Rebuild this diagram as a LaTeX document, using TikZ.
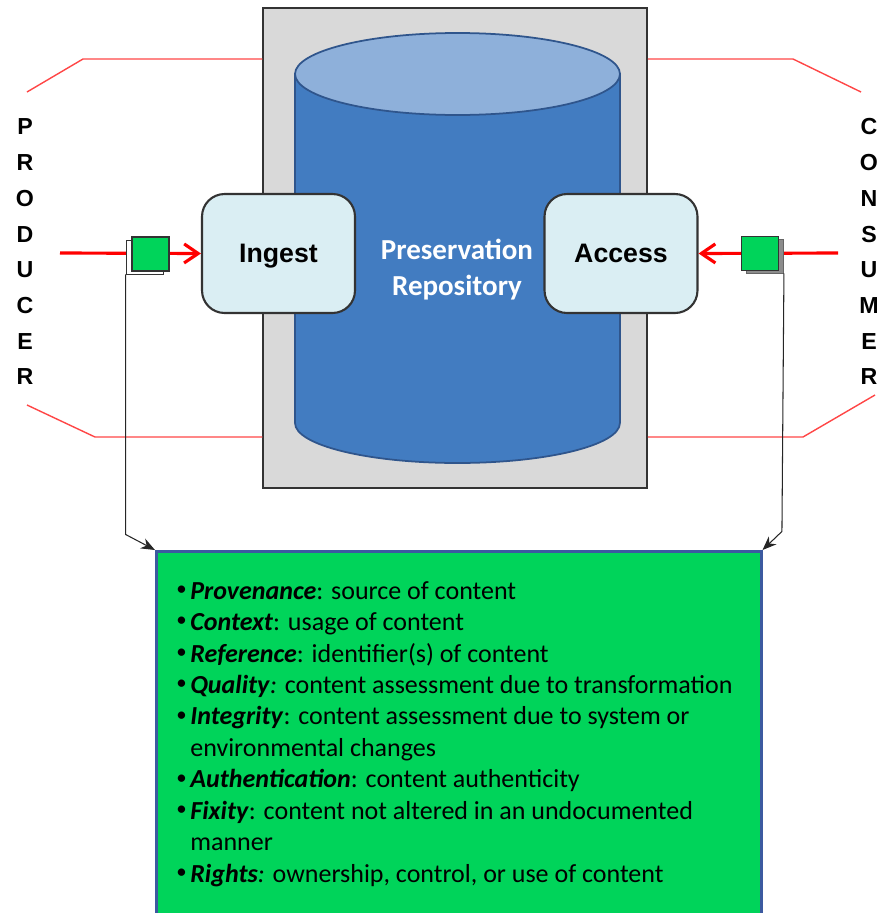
\documentclass[tikz,border=0pt]{standalone}
\usepackage{fontspec}
\setmainfont{Carlito}
\newfontfamily\arialbold[BoldFont={* Bold}]{Liberation Sans}
\usetikzlibrary{calc, positioning, arrows.meta}

\definecolor{archgray}{RGB}{217,217,217}
\definecolor{cylbody}{RGB}{66,124,193}
\definecolor{cyltop}{RGB}{142,176,218}
\definecolor{cylline}{RGB}{47,85,140}
\definecolor{stageblue}{RGB}{218,238,243}
\definecolor{taggreen}{RGB}{0,212,90}
\definecolor{listedge}{RGB}{60,90,160}
\definecolor{bracketred}{RGB}{255,70,70}

\tikzstyle{stage}=[draw=black!80, fill=stageblue, rounded corners=0.45cm, line width=1.2pt, minimum width=3.06cm, minimum height=2.38cm, text depth=0pt, font=\arialbold\fontsize{15.2}{18}\selectfont\bfseries]
\tikzstyle{tag}=[draw=black!80, fill=taggreen, minimum width=0.74cm, minimum height=0.68cm, inner sep=0pt, line width=0.8pt]
\tikzstyle{letter}=[font=\arialbold\fontsize{13.2}{15}\selectfont\bfseries, inner sep=0pt]
\tikzstyle{flow}=[red, line width=1.8pt, -{Straight Barb[length=0.28cm, width=0.38cm]}]
\tikzstyle{bracket}=[bracketred, line width=0.8pt]
\tikzstyle{link}=[black!85, line width=0.6pt, -{Stealth[length=0.28cm, width=0.22cm]}]

\newcommand{\itm}{\hspace*{-0.28cm}\makebox[0.28cm][l]{\raisebox{0.3ex}{\scalebox{0.8}{\textbullet}}}}
\newcommand{\cont}{}

\begin{document}
\begin{tikzpicture}[x=0.02cm, y=-0.02cm]
	\useasboundingbox (0,0) rectangle (876,913);
	\clip (0,0) rectangle (876,913);

	\node[draw=black!80, fill=archgray, line width=0.9pt, minimum width=7.68cm, minimum height=9.6cm] (archive) at (455,248) {};

	% producer / consumer brackets
	\coordinate (prodA) at (27,92);
	\coordinate (prodB) at (83,59);
	\coordinate (prodC) at (27,405);
	\coordinate (prodD) at (95,437);
	\coordinate (consA) at (861,92);
	\coordinate (consB) at (793,59);
	\coordinate (consC) at (875,395);
	\coordinate (consD) at (803,437);
	\draw[bracket] (prodA) -- (prodB) -- (prodB -| archive.west);
	\draw[bracket] (prodC) -- (prodD) -- (prodD -| archive.west);
	\draw[bracket] (consA) -- (consB) -- (consB -| archive.east);
	\draw[bracket] (consC) -- (consD) -- (consD -| archive.east);

	% repository
	\draw[cylline, fill=cylbody, line width=1pt] (295,74) -- (295,423) arc[start angle=180, end angle=360, x radius=3.25cm, y radius=0.8cm] -- (620,74) -- cycle;
	\draw[cylline, fill=cyltop, line width=1pt] (457.5,74) ellipse[x radius=3.25cm, y radius=0.82cm];
	\node[font=\fontsize{16.5}{20.5}\selectfont\bfseries, text=white, align=center] (repo) at (457,270) {Preservation\\Repository};

	\node[stage] (ingest) at (278.5,253.5) {Ingest};
	\node[stage] (access) at (621,253.5) {Access};

	\foreach \ch [count=\i from 0] in {P,R,O,D,U,C,E,R}
		\node[letter] (prod\i) at (25,127+35.7*\i) {\ch};
	\foreach \ch [count=\i from 0] in {C,O,N,S,U,M,E,R}
		\node[letter] (cons\i) at (869,127+35.7*\i) {\ch};

	\coordinate (prodIn) at (60,253);
	\coordinate (consOut) at (838,253);
	\draw[flow] (prodIn) -- (ingest.west);
	\draw[flow] (consOut) -- (access.east);

	\node[tag, fill=white, line width=0.5pt] (inback) at (144.5,257) {};
	\node[tag] (intag) at (150.5,254) {};
	\node[tag, draw=black!60, fill=black!45, line width=0.5pt] (outback) at (765,256) {};
	\node[tag] (outtag) at (760,253.5) {};

	\node[draw=listedge, fill=taggreen, line width=1.5pt, minimum width=12.1cm, minimum height=8cm, anchor=north west] (listbox) at (155,550) {};
	\node[anchor=north west, align=left, inner sep=0pt, font=\fontsize{14.8}{17.9}\selectfont] (facts) at (190,581) {
		\itm\textbf{\textit{Provenance}}: source of content\\
		\itm\textbf{\textit{Context}}: usage of content\\
		\itm\textbf{\textit{Reference}}: identifier(s) of content\\
		\itm\textbf{\textit{Quality}}\textit{:} content assessment due to transformation\\
		\itm\textbf{\textit{Integrity}}: content assessment due to system or\\
		\cont environmental changes\\
		\itm\textbf{\textit{Authentication}}: content authenticity\\
		\itm\textbf{\textit{Fixity}}: content not altered in an undocumented\\
		\cont manner\\
		\itm\textbf{\textit{Rights}}\textit{:} ownership, control, or use of content};

	\draw[link] (inback.south west) -- ++(0,260) -- (listbox.north west);
	\draw[link] (outback.south east) -- ++(-2,258) -- (listbox.north east);

\end{tikzpicture}
\end{document}
